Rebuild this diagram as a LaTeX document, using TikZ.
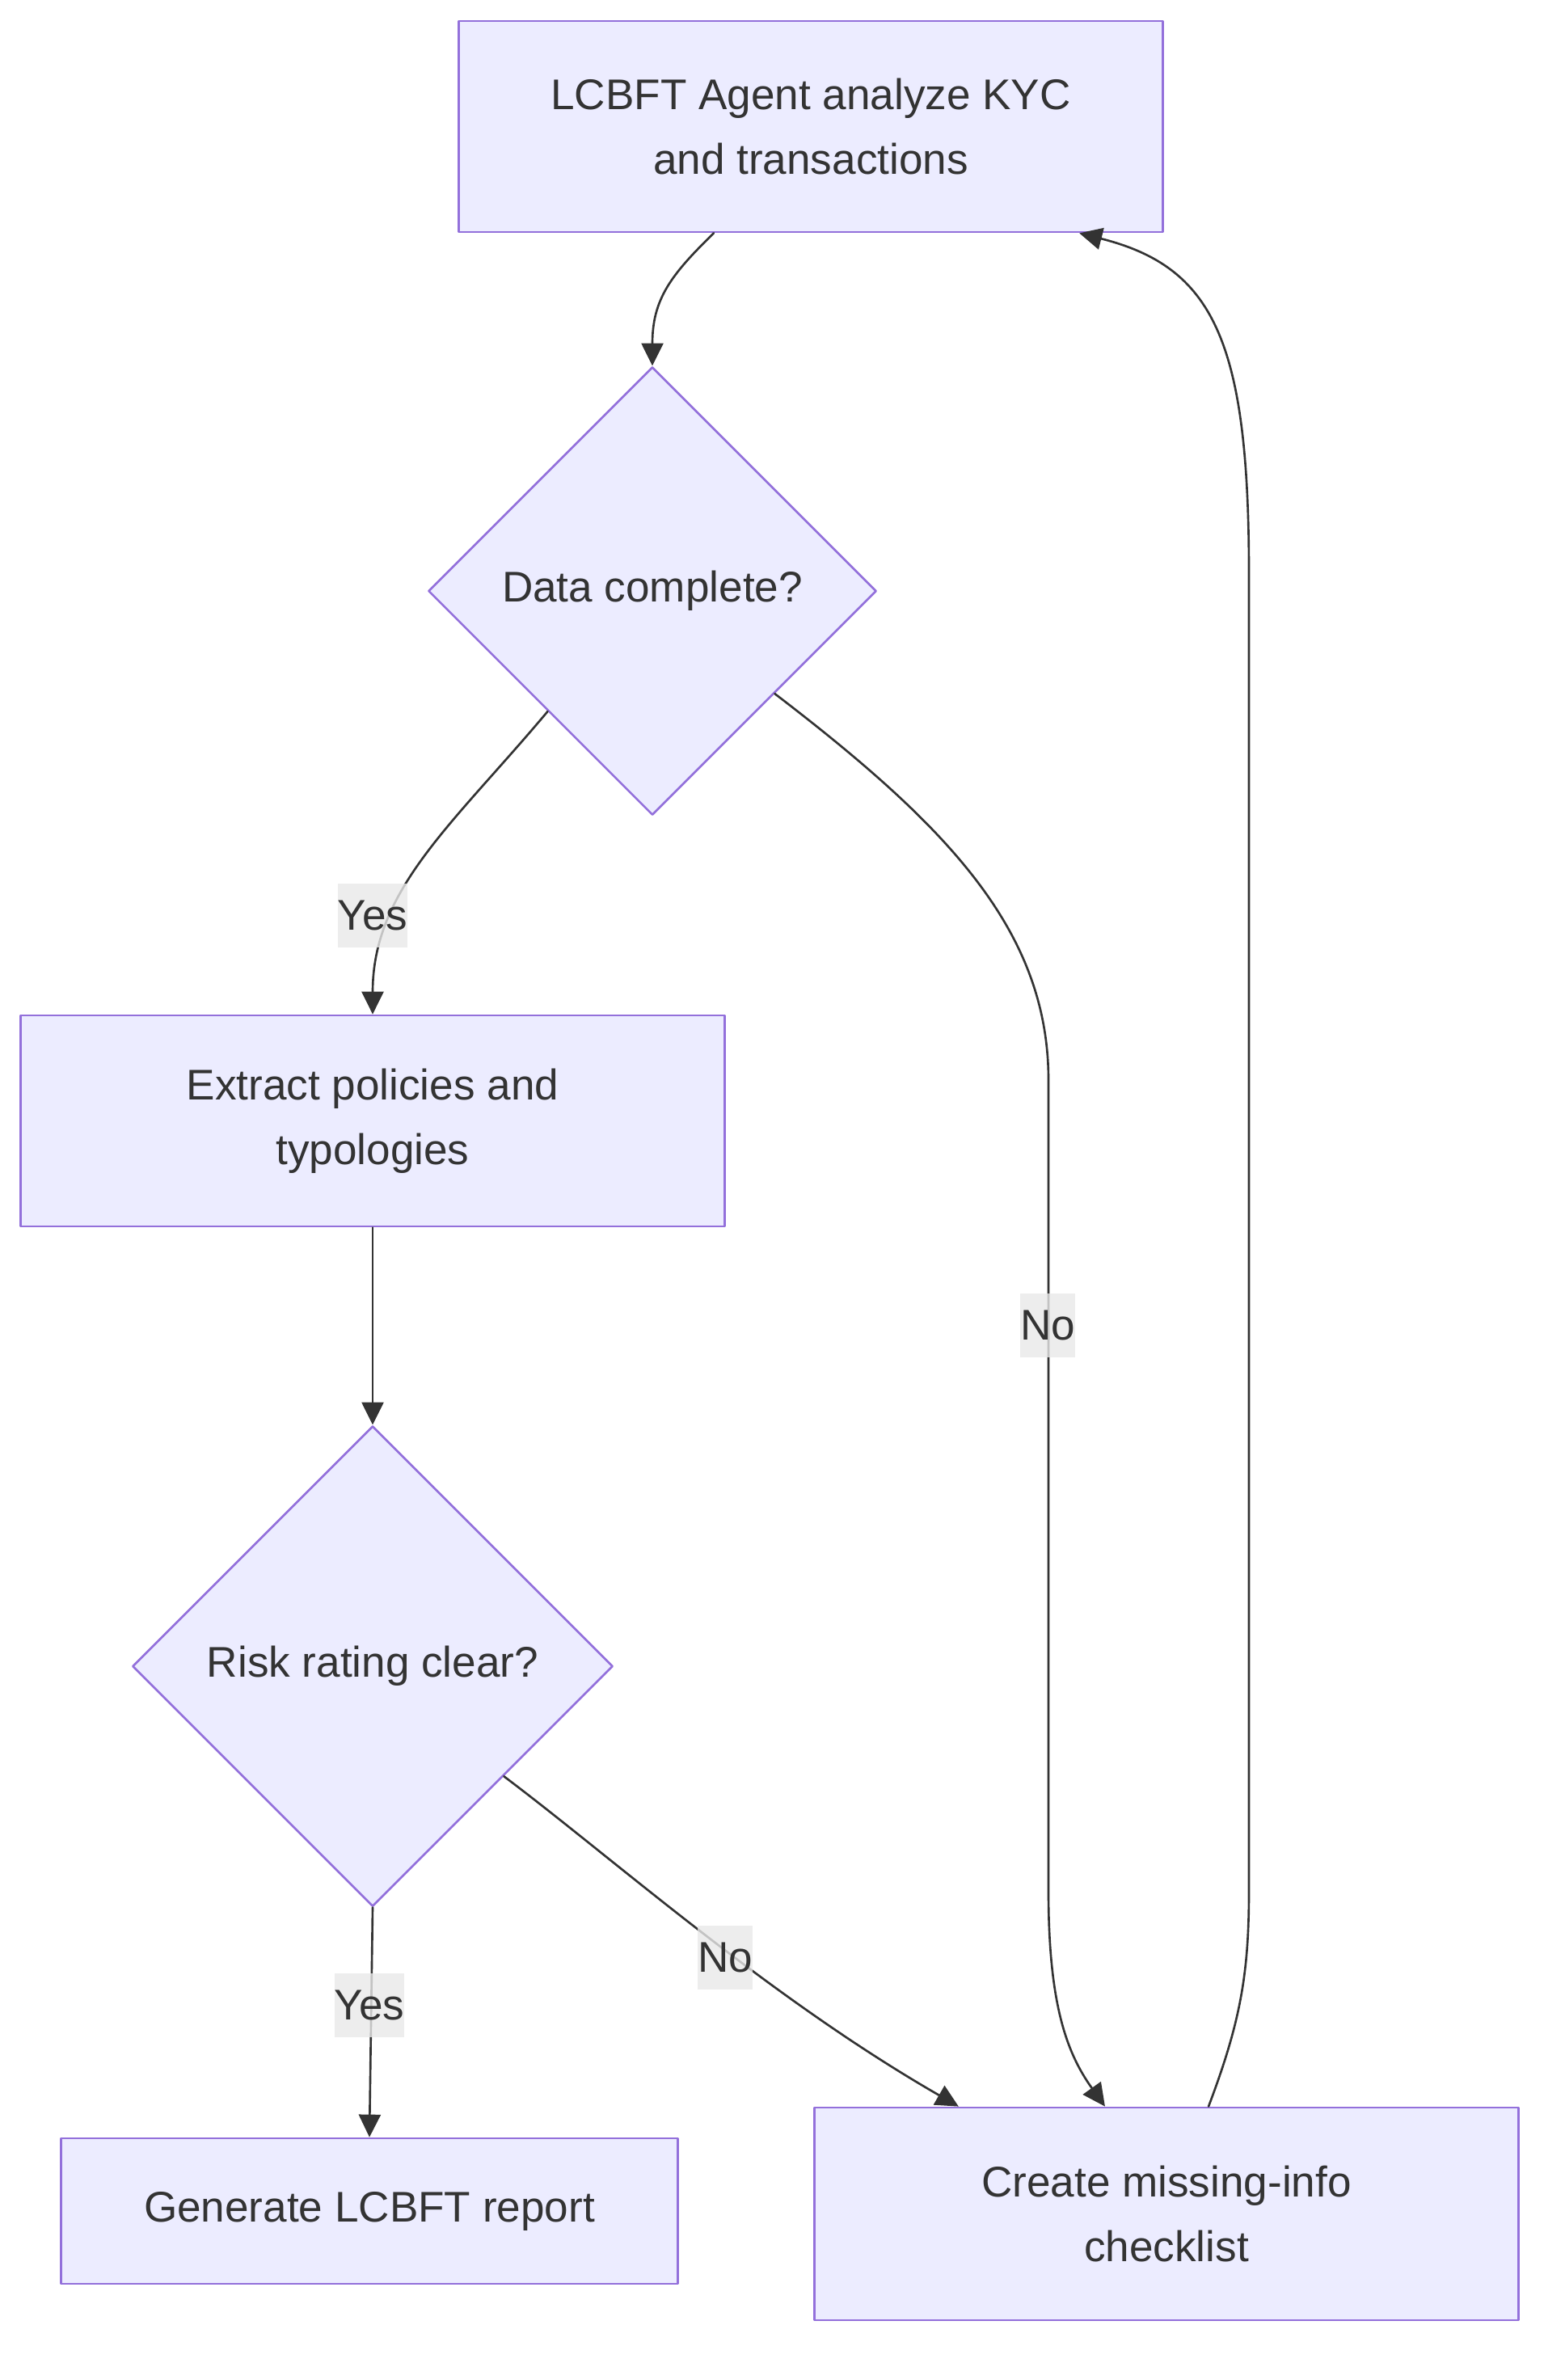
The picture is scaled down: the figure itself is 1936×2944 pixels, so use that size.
\documentclass[tikz,border=0pt]{standalone}
\usepackage{fontspec}
\setmainfont{Liberation Sans}
\usetikzlibrary{shapes.geometric,arrows.meta}

\begin{document}
\begin{tikzpicture}[x=0.01cm,y=-0.01cm,line cap=round,line join=round,
  txt/.style={text=ink,font=\fontsize{15.1}{22.8}\selectfont},
  box/.style={txt,draw=boxline,fill=boxfill,line width=0.75pt,align=center,inner sep=0pt,minimum width=8.7cm,minimum height=2.61cm},
  choice/.style={txt,diamond,aspect=1,draw=boxline,fill=boxfill,line width=0.75pt,inner sep=0pt},
  edgelabel/.style={txt,fill=labelbg,fill opacity=0.8,text opacity=1,inner xsep=0pt,inner ysep=0pt,minimum height=0.79cm},
  flow/.style={draw=ink,line width=0.75pt,-{Triangle[length=0.28cm,width=0.27cm]}}]
  \definecolor{boxfill}{RGB}{236,236,255}
  \definecolor{boxline}{RGB}{147,112,219}
  \definecolor{ink}{RGB}{51,51,51}
  \definecolor{labelbg}{RGB}{232,232,232}

  \useasboundingbox (0,0) rectangle (1936,2944);

  % steps and decisions
  \node[box] (analyse) at (1003,156.5) {LCBFT Agent analyze KYC\\and transactions};
  \node[choice,minimum width=5.54cm,minimum height=5.54cm] (check) at (807,731) {Data complete?};
  \node[box] (extract) at (461,1386.5) {Extract policies and\\typologies};
  \node[choice,minimum width=5.94cm,minimum height=5.94cm] (risk) at (461,2061) {Risk rating clear?};
  \node[box,minimum width=7.62cm,minimum height=1.8cm] (report) at (457,2735) {Generate LCBFT report};
  \node[box,minimum height=2.63cm] (missing) at (1443,2738.5) {Create missing-info\\checklist};

  % connectors
  \draw[flow] ([xshift=-1.2cm]analyse.south) .. controls (830,340) and (807,370) .. (check.north);
  \draw[flow] (check.229) .. controls (560,1020) and (461,1100) .. (extract.north);
  \draw[flow] (check.-40) .. controls (1170,1020) and (1297,1150) .. (1297,1336)
    -- (1297,2339) .. controls (1297,2480) and (1320,2540) .. ([xshift=-0.76cm]missing.north);
  \draw[flow] (extract.south) -- (risk.north);
  \draw[flow] (risk.south) -- (report.north);
  \draw[flow] (risk.-40) .. controls (760,2300) and (950,2470) .. ([xshift=-2.57cm]missing.north);
  \draw[flow] ([xshift=0.52cm]missing.north) .. controls (1535,2500) and (1545,2440) .. (1545,2339)
    -- (1545,709) .. controls (1545,420) and (1500,330) .. ([xshift=3.32cm]analyse.south);

  % edge labels
  \node[edgelabel] (yesdata) at (461,1132) {Yes};
  \node[edgelabel] (nodata) at (1296,1639) {No};
  \node[edgelabel] (yesrisk) at (457,2480) {Yes};
  \node[edgelabel] (norisk) at (897,2421) {No};
\end{tikzpicture}
\end{document}
